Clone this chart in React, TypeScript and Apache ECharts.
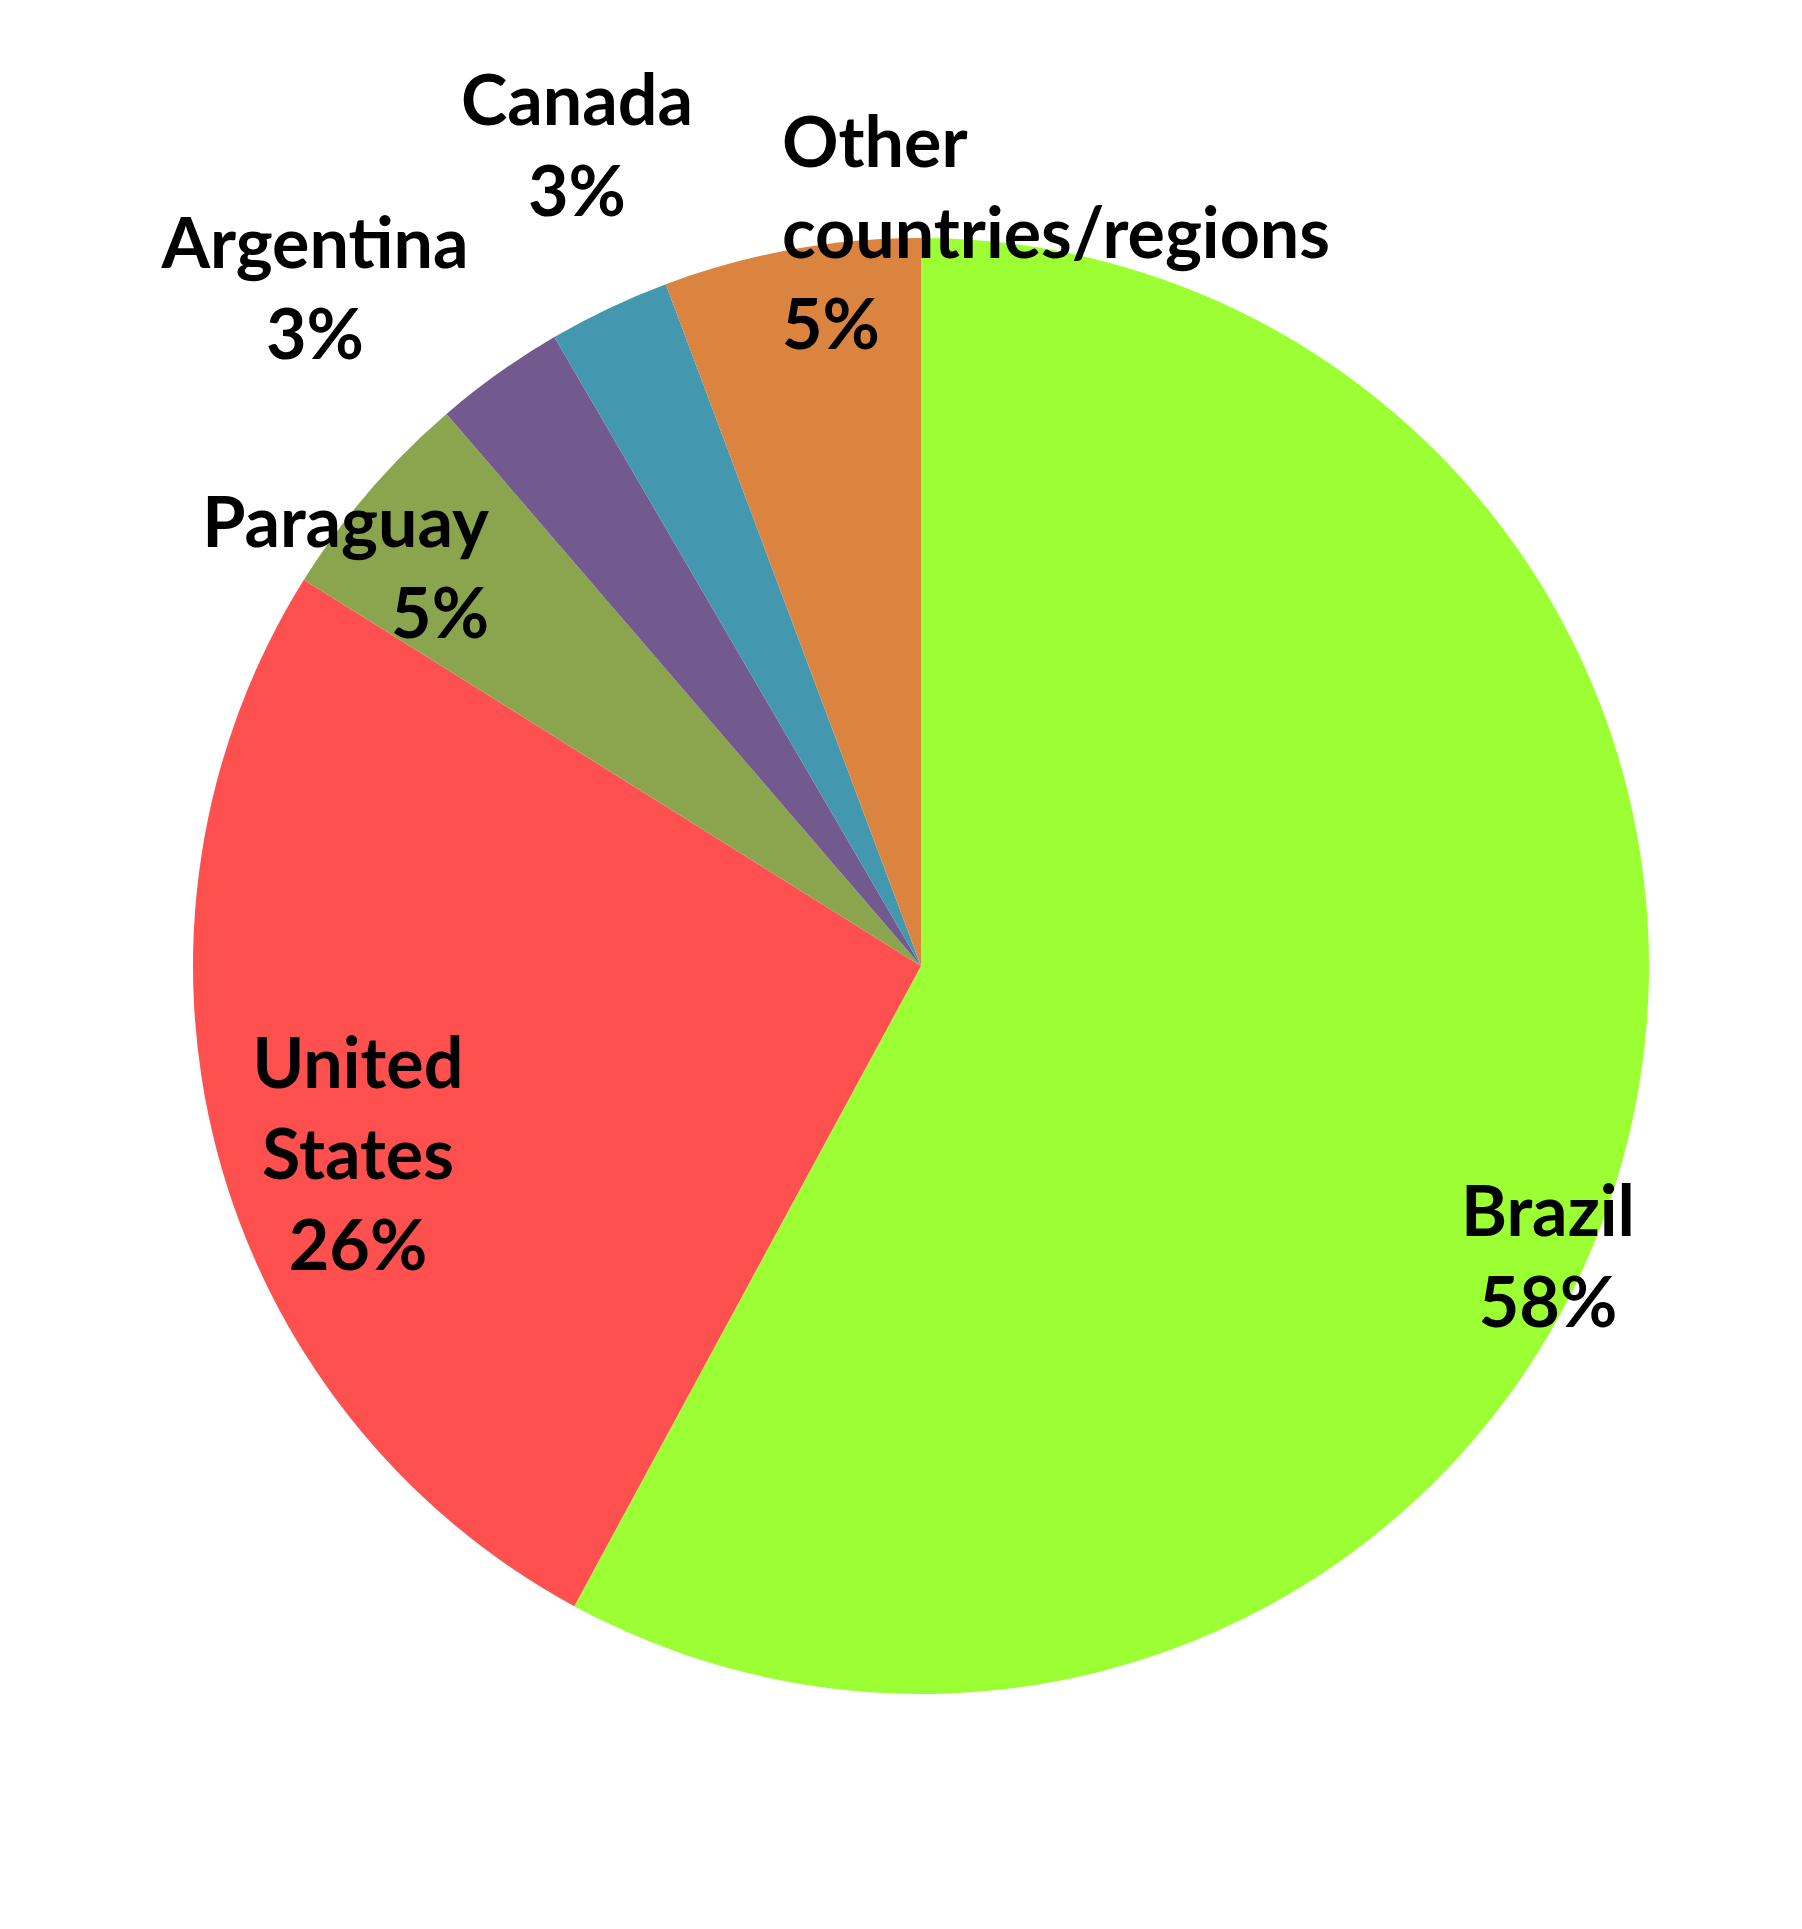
import React, { useEffect, useRef } from "react";
import * as echarts from "echarts";

const CATEGORIES = ["Brazil", "United States", "Paraguay", "Argentina", "Canada", "Other countries/regions"];
const LABEL_NAMES = ["Brazil", "United\nStates", "Paraguay", "Argentina", "Canada", "Other\ncountries/regions"];
const VALUES = [57.9, 26.0, 4.8, 2.9, 2.7, 5.7];
const LABEL_PCT = [58, 26, 5, 3, 3, 5];
const COLORS = ["#9BFF33", "#FF5050", "#8BA54E", "#725A8F", "#4398AF", "#DB843F"];

// label anchor positions (page px) and alignment
const LABEL_POS: [number, number, string][] = [
  [1548, 1254, "center"],
  [358, 1152, "center"],
  [489, 565, "right"],
  [315, 286, "center"],
  [577, 143, "center"],
  [782, 231, "left"],
];

export default function App() {
  const ref = useRef<HTMLDivElement>(null);
  useEffect(() => {
    if (!ref.current) return;
    const chart = echarts.init(ref.current, null, { renderer: "svg" });
    chart.setOption({
      animation: false,
      backgroundColor: "#ffffff",
      series: [
        {
          type: "pie",
          center: [921, 966],
          radius: 728,
          startAngle: 90,
          clockwise: true,
          avoidLabelOverlap: false,
          data: CATEGORIES.map((name, i) => ({
            name,
            value: VALUES[i],
            itemStyle: { color: COLORS[i], borderWidth: 0 },
          })),
          label: {
            show: true,
            position: "inside",
            formatter: (p: any) => `${LABEL_NAMES[p.dataIndex]}\n${LABEL_PCT[p.dataIndex]}%`,
            color: "#000000",
            fontFamily: "Lato",
            fontWeight: "bold",
            fontSize: 70,
            lineHeight: 91,
          },
          labelLine: { show: false },
          labelLayout: (params: any) => {
            const [x, y, align] = LABEL_POS[params.dataIndex];
            return { x, y, align, verticalAlign: "middle" };
          },
          emphasis: { disabled: true },
        },
      ],
    });
    return () => chart.dispose();
  }, []);
  return (
    <div
      ref={ref}
      style={{ position: "fixed", left: 0, top: 0, width: 1802, height: 1929 }}
    />
  );
}
